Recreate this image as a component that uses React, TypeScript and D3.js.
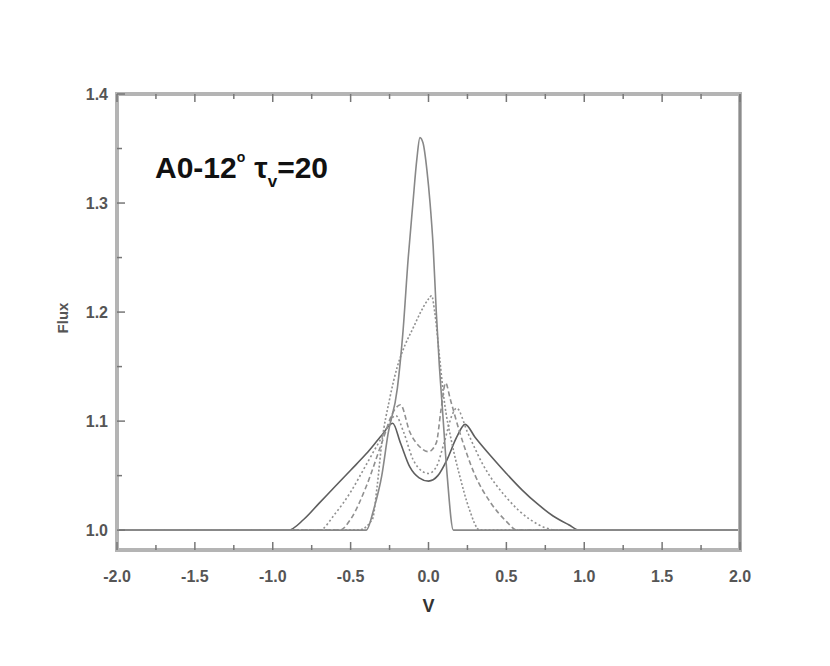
import * as d3 from "d3"

// Flux profiles, [v, flux] pairs
const narrowSolid: [number, number][] = [
  [-2.0, 1.0], [-1.5, 1.0], [-1.0, 1.0], [-0.5, 1.0], [-0.4, 1.0], [-0.35, 1.02], [-0.3, 1.05],
  [-0.26, 1.088], [-0.2, 1.13], [-0.165, 1.18], [-0.13, 1.25], [-0.1, 1.3], [-0.075, 1.34],
  [-0.055, 1.36], [-0.035, 1.355], [-0.01, 1.33], [0.01, 1.3], [0.03, 1.26], [0.05, 1.2],
  [0.07, 1.15], [0.09, 1.11], [0.12, 1.05], [0.16, 1.0], [0.5, 1.0], [1.0, 1.0], [1.5, 1.0], [2.0, 1.0],
]

const peakDotted: [number, number][] = [
  [-2.0, 1.0], [-1.5, 1.0], [-1.0, 1.0], [-0.45, 1.0], [-0.36, 1.01], [-0.33, 1.04], [-0.3, 1.08],
  [-0.25, 1.12], [-0.2, 1.15], [-0.15, 1.17], [-0.1, 1.185], [-0.05, 1.2], [0.0, 1.212], [0.02, 1.215],
  [0.04, 1.2], [0.07, 1.16], [0.1, 1.12], [0.15, 1.08], [0.2, 1.05], [0.26, 1.02], [0.33, 1.0],
  [1.0, 1.0], [1.5, 1.0], [2.0, 1.0],
]

const dipDashed: [number, number][] = [
  [-2.0, 1.0], [-1.5, 1.0], [-1.0, 1.0], [-0.57, 1.0], [-0.5, 1.01], [-0.4, 1.04], [-0.3, 1.08],
  [-0.22, 1.11], [-0.18, 1.115], [-0.12, 1.09], [-0.06, 1.077], [0.0, 1.072], [0.05, 1.08],
  [0.08, 1.11], [0.11, 1.135], [0.14, 1.12], [0.2, 1.09], [0.3, 1.05], [0.4, 1.025], [0.5, 1.008],
  [0.57, 1.0], [1.0, 1.0], [1.5, 1.0], [2.0, 1.0],
]

const dipDotted: [number, number][] = [
  [-2.0, 1.0], [-1.5, 1.0], [-1.0, 1.0], [-0.7, 1.0], [-0.6, 1.015], [-0.5, 1.035], [-0.4, 1.06],
  [-0.3, 1.085], [-0.21, 1.105], [-0.16, 1.09], [-0.1, 1.065], [-0.04, 1.054], [0.0, 1.052],
  [0.05, 1.058], [0.1, 1.08], [0.15, 1.105], [0.18, 1.112], [0.25, 1.09], [0.35, 1.06], [0.5, 1.03],
  [0.65, 1.01], [0.83, 1.0], [1.0, 1.0], [1.5, 1.0], [2.0, 1.0],
]

const wideSolid: [number, number][] = [
  [-2.0, 1.0], [-1.5, 1.0], [-1.0, 1.0], [-0.9, 1.0], [-0.8, 1.01], [-0.7, 1.025], [-0.6, 1.04],
  [-0.5, 1.055], [-0.4, 1.07], [-0.3, 1.087], [-0.23, 1.098], [-0.18, 1.08], [-0.12, 1.058],
  [-0.06, 1.048], [0.0, 1.045], [0.06, 1.05], [0.12, 1.065], [0.18, 1.085], [0.235, 1.097],
  [0.3, 1.085], [0.4, 1.068], [0.5, 1.052], [0.6, 1.037], [0.7, 1.024], [0.8, 1.013], [0.9, 1.005],
  [0.97, 1.0], [1.5, 1.0], [2.0, 1.0],
]

const series = [
  { name: "wide", points: wideSolid, color: "#5e5e5e", dash: "" },
  { name: "dipDotted", points: dipDotted, color: "#909090", dash: "2,2.5" },
  { name: "dipDashed", points: dipDashed, color: "#909090", dash: "5,3" },
  { name: "peakDotted", points: peakDotted, color: "#909090", dash: "2,2" },
  { name: "narrow", points: narrowSolid, color: "#888888", dash: "" },
]

const xTicks = [-2.0, -1.5, -1.0, -0.5, 0.0, 0.5, 1.0, 1.5, 2.0]
const yTicks = [1.0, 1.1, 1.2, 1.3, 1.4]

export default function App() {
  const left = 117
  const right = 740
  const top = 94
  const bottom = 550

  const x = d3.scaleLinear().domain([-2, 2]).range([left, right])
  const y = d3.scaleLinear().domain([0.9818, 1.4]).range([bottom, top])

  const line = d3
    .line<[number, number]>()
    .x((d) => x(d[0]))
    .y((d) => y(d[1]))
    .curve(d3.curveMonotoneX)

  const fmt = (v: number) => d3.format(".1f")(v).replace("\u2212", "-")

  // minor ticks halfway between major ones
  const xMinor = d3.range(-1.75, 2, 0.5)
  const yMinor = d3.range(1.05, 1.4, 0.1)

  const font = "'Liberation Sans', Arial, sans-serif"

  return (
    <div style={{ position: "absolute", left: 0, top: 0 }}>
      <svg width={830} height={666} style={{ display: "block", background: "#fff" }}>
        <g fill="none">
          {series.map((s) => (
            <path
              key={s.name}
              d={line(s.points) || ""}
              stroke={s.color}
              strokeWidth={1.6}
              strokeDasharray={s.dash || undefined}
            />
          ))}
        </g>

        {/* frame */}
        <rect x={left} y={top} width={right - left} height={bottom - top} fill="none" stroke="#b4b4b4" strokeWidth={4} />
        <line x1={right} x2={right} y1={top} y2={bottom} stroke="#8c8c8c" strokeWidth={2} />

        {/* x ticks, bottom and top, pointing inward */}
        <g stroke="#777" strokeWidth={1.5}>
          {xTicks.map((t) => (
            <g key={"xt" + t}>
              <line x1={x(t)} x2={x(t)} y1={bottom} y2={bottom - 8} />
              <line x1={x(t)} x2={x(t)} y1={top} y2={top + 8} />
            </g>
          ))}
          {xMinor.map((t) => (
            <g key={"xm" + t}>
              <line x1={x(t)} x2={x(t)} y1={bottom} y2={bottom - 5} />
              <line x1={x(t)} x2={x(t)} y1={top} y2={top + 5} />
            </g>
          ))}
          {yTicks.map((t) => (
            <line key={"yt" + t} x1={left} x2={left + 8} y1={y(t)} y2={y(t)} />
          ))}
          {yMinor.map((t) => (
            <line key={"ym" + t} x1={left} x2={left + 5} y1={y(t)} y2={y(t)} />
          ))}
        </g>

        <g fontFamily={font} fontWeight="bold" fontSize={16} fill="#555">
          {xTicks.map((t) => (
            <text key={"xl" + t} x={x(t)} y={582} textAnchor="middle">
              {fmt(t)}
            </text>
          ))}
          {yTicks.map((t) => (
            <text key={"yl" + t} x={108} y={y(t)} dy="0.35em" textAnchor="end">
              {fmt(t)}
            </text>
          ))}
        </g>

        <text x={x(0)} y={612} textAnchor="middle" fontFamily={font} fontWeight="bold" fontSize={18} fill="#333">
          V
        </text>
        <text
          transform="translate(68,318) rotate(-90)"
          textAnchor="middle"
          fontFamily={font}
          fontWeight="bold"
          fontSize={15}
          fill="#555"
        >
          Flux
        </text>

        <text x={155} y={178} fontFamily={font} fontWeight="bold" fontSize={30} fill="#111">
          A0-12
          <tspan fontSize={14} dy={-16}>o</tspan>
          <tspan dx={9} dy={16}>τ</tspan>
          <tspan fontSize={17} dy={9}>v</tspan>
          <tspan dy={-9}>=20</tspan>
        </text>
      </svg>
    </div>
  )
}
